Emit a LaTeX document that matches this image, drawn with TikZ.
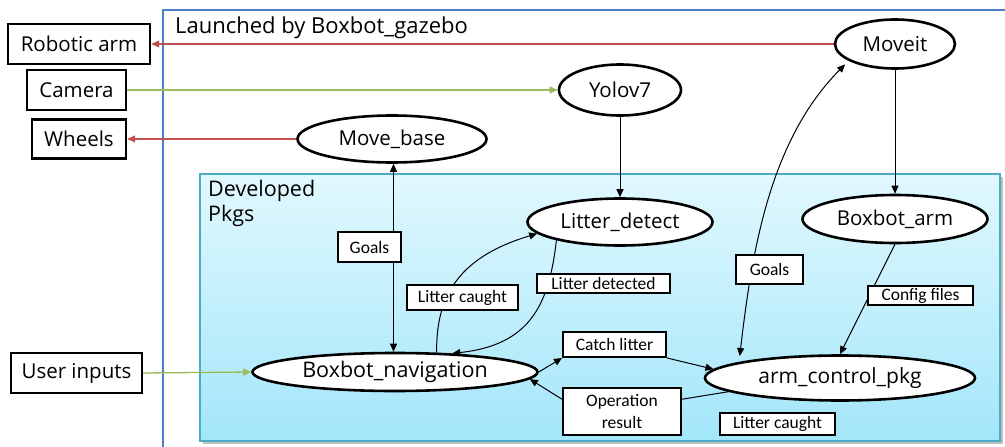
\documentclass[tikz,border=0pt]{standalone}
\usepackage{fontspec}
\setmainfont{Open Sans}
\newfontfamily\lblfont{Carlito}
\usetikzlibrary{shapes.geometric,arrows.meta,calc}
\pgfdeclarelayer{bg}
\pgfdeclarelayer{edges}
\pgfsetlayers{bg,edges,main}
\definecolor{frameblue}{HTML}{4F7EC8}
\definecolor{devborder}{HTML}{4BACC6}
\definecolor{devtop}{HTML}{E1F8FE}
\definecolor{devbot}{HTML}{A3E6FA}
\definecolor{redl}{HTML}{C0504D}
\definecolor{greenl}{HTML}{9BBB59}
\begin{document}
\begin{tikzpicture}[x=1pt,y=-1pt,
  ell/.style={ellipse,draw,line width=2.6pt,fill=white,inner sep=0pt,font=\fontsize{20.5}{24}\selectfont},
  dev/.style={rectangle,draw,line width=2.4pt,fill=white,inner sep=0pt,font=\fontsize{20.5}{24}\selectfont},
  lbl/.style={rectangle,draw,line width=2pt,fill=white,inner sep=0pt,font=\lblfont\fontsize{17.5}{20}\selectfont,align=center},
  arr/.style={-{Triangle[length=8pt,width=7pt]},line width=1pt},
  arrb/.style={{Triangle[length=8pt,width=7pt]}-{Triangle[length=8pt,width=7pt]},line width=1pt},
  redarr/.style={-{Triangle[length=8pt,width=7pt]},line width=1.1pt,draw=redl,fill=redl},
  grnarr/.style={-{Triangle[length=8pt,width=7pt]},line width=1.3pt,draw=greenl,fill=greenl}]
\useasboundingbox (0,0) rectangle (1005,447);

% frames
\begin{pgfonlayer}{bg}
\fill[white] (0,0) rectangle (1005,447);
\draw[frameblue,line width=1.2pt] (1006,10) -- (163,10) -- (163,448);
\fill[black!25] (203,177) rectangle (1003,444);
\shade[top color=devtop,bottom color=devbot] (200,174) rectangle (1000,441);
\draw[devborder,line width=1.2pt] (200,174) rectangle (1000,441);
\end{pgfonlayer}
\node[anchor=west,font=\fontsize{22}{24}\selectfont,inner sep=0pt] (ttl) at (175,28) {Launched by Boxbot\_gazebo};
\node[anchor=north west,align=left,font=\fontsize{21.5}{25}\selectfont,inner sep=0pt] (devt) at (208,180) {Developed\\Pkgs};

% devices
\node[dev,minimum width=142pt,minimum height=40pt] (robot) at (79,44) {Robotic arm};
\node[dev,minimum width=99pt,minimum height=40pt] (camera) at (76.5,90) {Camera};
\node[dev,minimum width=94pt,minimum height=39pt] (wheels) at (79,139) {Wheels};
\node[dev,minimum width=131pt,minimum height=40pt] (user) at (76.5,373) {User inputs};

% ellipses
\node[ell,minimum width=189pt,minimum height=47pt] (movebase) at (392,139) {Move\_base};
\node[ell,minimum width=122pt,minimum height=51pt] (yolo) at (620,90) {Yolov7};
\node[ell,minimum width=120pt,minimum height=49pt] (moveit) at (895,44) {Moveit};
\node[ell,minimum width=185pt,minimum height=47pt] (detect) at (620,222) {Litter\_detect};
\node[ell,minimum width=185pt,minimum height=48pt] (boxarm) at (895,219) {Boxbot\_arm};
\node[ell,minimum width=285pt,minimum height=38pt,font=\fontsize{21.5}{24}\selectfont] (nav) at (395,372) {Boxbot\_navigation};
\node[ell,minimum width=270pt,minimum height=45pt,font=\fontsize{21}{24}\selectfont] (arm) at (840,378) {arm\_control\_pkg};

% labels
\node[lbl,minimum width=63pt,minimum height=30pt] (goalsL) at (369.5,247) {Goals};
\node[lbl,minimum width=111pt,minimum height=25pt] (caughtL) at (462.5,297.5) {Litter caught};
\node[lbl,minimum width=133pt,minimum height=19pt] (detected) at (603.5,283.5) {Litter detected};
\node[lbl,minimum width=67pt,minimum height=29pt] (goalsR) at (769.5,269) {Goals};
\node[lbl,minimum width=105pt,minimum height=19pt] (config) at (920.5,295.5) {Config files};
\node[lbl,minimum width=103pt,minimum height=25pt] (catch) at (614.5,344.5) {Catch litter};
\node[lbl,minimum width=118pt,minimum height=47pt,font=\lblfont\fontsize{17.5}{22}\selectfont] (oper) at (622,411.5) {Operation\\result};
\node[lbl,minimum width=115pt,minimum height=22pt] (caughtR) at (777.5,424) {Litter caught};

% connectors
\begin{pgfonlayer}{edges}
\draw[redarr] (moveit.west) -- (robot.east);
\draw[grnarr] (camera.east) -- (yolo.west);
\draw[redarr] (movebase.west) -- (wheels.east);
\draw[grnarr] (user.east) -- (nav.west);
\draw[arrb] (movebase.south -| 393.5,0) -- (nav.north -| 393.5,0);
\draw[arr] (yolo.south) -- (detect.north);
\draw[arr] (moveit.south) -- (boxarm.north);
\draw[arr] (nav.25) .. controls (436,300) and (455,258) .. (detect.188);
\draw[arr] (detect.196) .. controls (549,305) and (530,345) .. (nav.18);
\draw[arr] (nav.east) -- (catch.south west);
\draw[arr] (catch.south east) -- (arm.176);
\draw[line width=1pt] (arm.187) -- ($(oper.east)!0.5!(oper.north east)$);
\draw[arr] ($(oper.west)!0.5!(oper.north west)$) -- (nav.-3);
\draw[arrb,shorten <=6pt,shorten >=5pt] (arm.171) .. controls (752,250) and (770,140) .. (moveit.200);
\draw[arr] (boxarm.south) -- (arm.north);
\end{pgfonlayer}
\end{tikzpicture}
\end{document}
